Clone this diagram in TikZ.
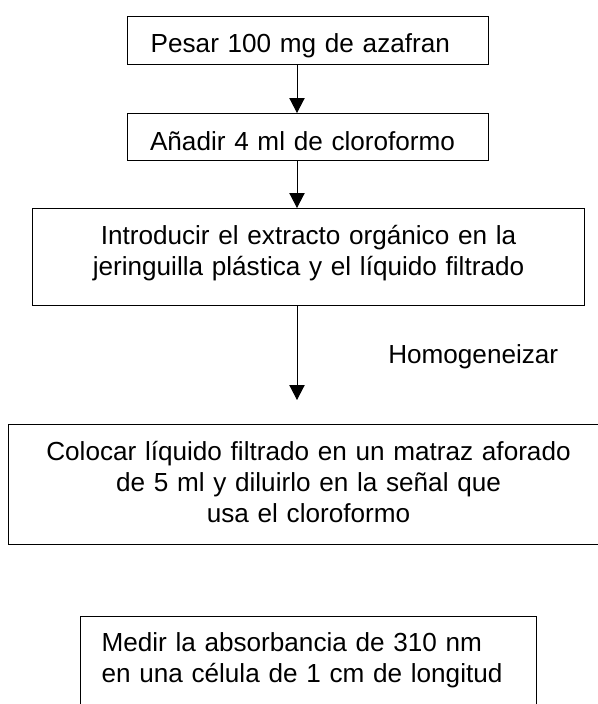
\documentclass[tikz,border=0pt]{standalone}
\usepackage{fontspec}
\setmainfont{Liberation Sans}
\usepackage{tikz}
\usetikzlibrary{%
  arrows.meta%
}

\begin{document}
\begin{tikzpicture}[x=0.75pt,y=-0.75pt,
    caja/.style={draw,line width=0.75pt,inner ysep=0pt,anchor=north west,
      font=\fontsize{19.6pt}{23.25pt}\selectfont},
    flecha/.style={line width=0.75pt,-{Triangle[length=11.25pt,width=11.5pt]}}]
      \useasboundingbox (0,0) rectangle (598,704);
      \clip (0,0) rectangle (598,704);
      \coordinate (eje) at (297,0);
      \node[caja,inner xsep=17.4pt,text width=236pt,align=left,
        text height=26.8pt,text depth=9.2pt] (pesar) at (127,16)
        {Pesar 100 mg de azafran};
      \node[caja,inner xsep=16.9pt,text width=237pt,align=left,
        text height=27.75pt,text depth=7.5pt] (anadir) at (127,113)
        {Añadir 4 ml de cloroformo};
      \node[caja,inner xsep=0pt,text width=414pt,align=center,
        text height=27.2pt,text depth=45.5pt] (introducir) at (32,208)
        {Introducir el extracto orgánico en la\\jeringuilla plástica y el líquido filtrado};
      \node[caja,inner xsep=0pt,text width=450pt,align=center,
        text height=27pt,text depth=63pt] (colocar) at (8,424)
        {Colocar líquido filtrado en un matraz aforado\\de 5 ml y diluirlo en la señal que\\usa el cloroformo};
      \node[caja,inner xsep=15.75pt,text width=310.5pt,align=left,
        text height=25.9pt,text depth=46.1pt] (medir) at (80,616)
        {Medir la absorbancia de 310 nm\\en una célula de 1 cm de longitud};
      \node[anchor=base west,inner sep=0pt,font=\fontsize{19.6pt}{23.25pt}\selectfont]
        (homog) at (388,363.3) {Homogeneizar};
      \coordinate (punta) at (297,400);
      \draw[flecha] (pesar.south -| eje) -- (anadir.north -| eje);
      \draw[flecha] (anadir.south -| eje) -- (introducir.north -| eje);
      \draw[flecha] (introducir.south -| eje) -- (punta);
    \end{tikzpicture}
\end{document}
